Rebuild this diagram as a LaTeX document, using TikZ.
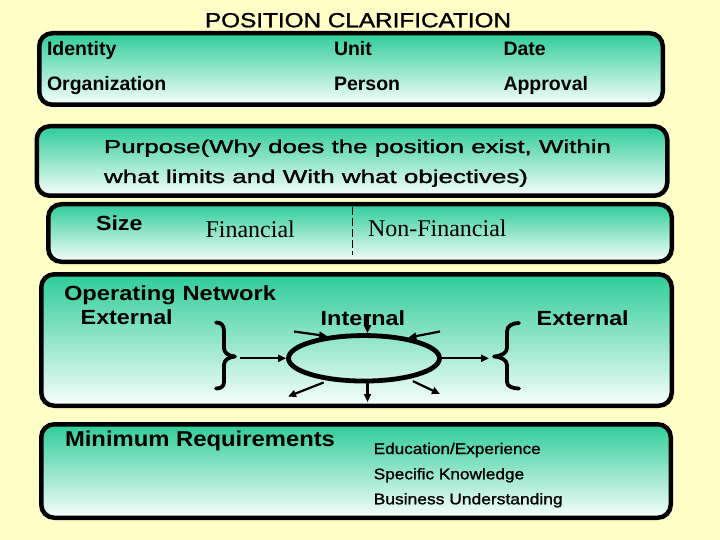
\documentclass[tikz,border=0pt]{standalone}
\usepackage{fontspec}
\setmainfont{Liberation Sans}
\newfontfamily\serifT{Liberation Serif}
\newfontfamily\medf[FakeBold=1.2]{Liberation Sans}
\usepackage{graphicx}
\usetikzlibrary{shapes.geometric,arrows.meta}
\definecolor{bgy}{RGB}{255,255,200}
\definecolor{tealtop}{RGB}{46,204,153}
\definecolor{boxbot}{RGB}{248,255,252}
\newcommand\fitxt[3]{\resizebox{#2pt}{\height}{\fontsize{#1}{#1}\selectfont #3}}
\begin{document}
\begin{tikzpicture}[x=1pt,y=-1pt,
  box/.style={draw=black,line width=4.5pt,rounded corners=13pt,top color=tealtop,bottom color=boxbot,inner sep=0pt},
  lbl/.style={anchor=base west,inner sep=0pt,outer sep=0pt},
  idt/.style={lbl,font=\fontsize{19.5}{20}\selectfont\bfseries},
  tms/.style={lbl,font=\serifT\fontsize{24}{24}\selectfont},
  arr/.style={line width=2.2pt,-{Triangle[length=8pt,width=7pt]}},
  brc/.style={line width=3.8pt,line cap=round,line join=round}]
\useasboundingbox (0,0) rectangle (720,540);
\fill[bgy] (0,0) rectangle (720,540);

% boxes
\node[box,minimum width=623.5pt,minimum height=71.5pt] (b1) at (351,69) {};
\node[box,minimum width=630.5pt,minimum height=69.5pt] (b2) at (352,161) {};
\node[box,minimum width=623.5pt,minimum height=57.5pt] (b3) at (360,233) {};
\node[box,minimum width=630.5pt,minimum height=131.5pt] (b4) at (356.5,340) {};
\node[box,minimum width=629.5pt,minimum height=93.5pt] (b5) at (356,471) {};

% title
\node[lbl] (title) at (205,27.3) {\fitxt{20.5}{306}{\medf POSITION CLARIFICATION}};

% box 1
\node[idt] (identity) at (47,55.7) {Identity};
\node[idt] (unit) at (334,55.7) {Unit};
\node[idt] (date) at (503.5,55.7) {Date};
\node[idt] (org) at (47,90.7) {Organization};
\node[idt] (person) at (334,90.7) {Person};
\node[idt] (approval) at (503.5,90.7) {Approval};

% box 2
\node[lbl] (purp1) at (104,153) {\fitxt{18.6}{507}{\medf Purpose(Why does the position exist, Within}};
\node[lbl] (purp2) at (104,183) {\fitxt{18.6}{424}{\medf what limits and With what objectives)}};

% box 3
\node[lbl] (size) at (96,230) {\fitxt{20.5}{46.5}{\bfseries Size}};
\node[tms] (fin) at (205.5,237.3) {Financial};
\node[tms] (nonfin) at (368,236.7) {Non-Financial};
\draw[line width=0.8pt,dash pattern=on 8pt off 3pt] (352.7,207) -- (352.7,255);

% box 4
\node[lbl] (opnet) at (64,300.7) {\fitxt{20.5}{212}{\bfseries Operating Network}};
\node[lbl] (extl) at (80.7,324) {\fitxt{20.5}{92}{\bfseries External}};
\node[lbl] (intl) at (320.7,325.7) {\fitxt{20.5}{84.5}{\bfseries Internal}};
\node[lbl] (extr) at (536.7,325.7) {\fitxt{20.5}{92}{\bfseries External}};

\node[draw,ellipse,line width=4.8pt,minimum width=151pt,minimum height=45.5pt,inner sep=0pt] (core) at (364,358.3) {};

% braces
\draw[brc] (216,322.5) .. controls (221,322.5) and (224,325) .. (224,331) -- (224,348)
  .. controls (224,352.5) and (228,356) .. (235,356.5)
  .. controls (228,357) and (224,360.5) .. (224,365) -- (224,382)
  .. controls (224,386.5) and (221,388.5) .. (216,388.5);
\draw[brc] (519,323) .. controls (513,323) and (507,325.5) .. (507,331.5) -- (507,348)
  .. controls (507,352.5) and (502,356) .. (494,356.5)
  .. controls (502,357) and (507,360.5) .. (507,365) -- (507,382)
  .. controls (507,386.5) and (513,388.5) .. (519,388.5);

% arrows
\coordinate (lb) at (240,358.3);
\coordinate (rb) at (489,358.3);
\coordinate (tc) at (367.5,314);
\coordinate (bc) at (367.5,402);
\coordinate (tl) at (294,331.5);
\coordinate (tr) at (440,331.5);
\coordinate (bl) at (288,396.5);
\coordinate (br) at (440,394);
\draw[arr] (lb) -- (core.west);
\draw[arr] (core.east) -- (rb);
\draw[arr] (tc) -- (tc |- core.north);
\draw[arr] (bc |- core.south) -- (bc);
\draw[arr] (tl) -- (core.149);
\draw[arr] (tr) -- (core.25);
\draw[arr,shorten <=5pt] (core.212) -- (bl);
\draw[arr,shorten <=5pt] (core.335) -- (br);

% box 5
\node[lbl] (minreq) at (65,446.5) {\fitxt{21.5}{270}{\bfseries Minimum Requirements}};
\node[lbl] (edu) at (373.7,454) {\fitxt{15.4}{167}{\medf Education/Experience}};
\node[lbl] (spec) at (373.7,479.3) {\fitxt{15.4}{150.5}{\medf Specific Knowledge}};
\node[lbl] (bus) at (373.7,504.3) {\fitxt{15.4}{189}{\medf Business Understanding}};
\end{tikzpicture}
\end{document}
